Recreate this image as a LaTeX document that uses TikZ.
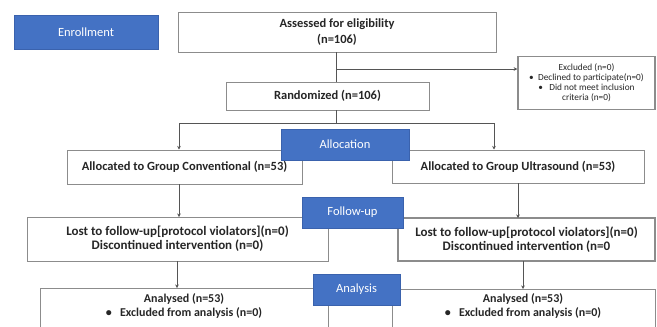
\documentclass[tikz,border=0pt]{standalone}
\usepackage{fontspec}
\setmainfont{Carlito}
\usetikzlibrary{arrows.meta}
\definecolor{bluebox}{HTML}{4472C4}
\definecolor{blueborder}{HTML}{3A62AD}
\definecolor{boxgray}{HTML}{8C8C8C}
\definecolor{linegray}{HTML}{555555}
\definecolor{txt}{HTML}{262626}
\begin{document}
\begin{tikzpicture}[x=1pt,y=-1pt,
 wbox/.style={draw=boxgray, line width=1pt, fill=white, inner sep=0pt, font=\bfseries\fontsize{12.5}{14}\selectfont, text=txt, align=center},
 tbox/.style={inner sep=0pt, font=\bfseries\fontsize{12}{13.5}\selectfont, text=txt, align=center},
 bbox/.style={draw=blueborder, fill=bluebox, line width=0.8pt, inner sep=0pt, font=\fontsize{12.5}{14}\selectfont, text=white},
 arr/.style={draw=linegray, line width=1pt, -{Stealth[length=3.5pt,width=3.5pt]}},
 ln/.style={draw=linegray, line width=1pt}]
\useasboundingbox (0,0) rectangle (657,327);
\fill[white] (0,0) rectangle (657,327);
% white boxes
\node[wbox, minimum width=318, minimum height=40, font=\bfseries\fontsize{12.5}{16}\selectfont] (assess) at (337,32) {Assessed for eligibility\\(n=106)};
\node[wbox, minimum width=137, minimum height=53, line width=1.5pt, font=\fontsize{9.3}{10}\selectfont] (excl) at (586.5,83) {Excluded (n=0)\\• \ Declined to participate(n=0)\\• \ \ Did not meet inclusion\\criteria (n=0)};
\node[wbox, minimum width=203, minimum height=28] (rand) at (327.5,96) {Randomized (n=106)};
\node[wbox, minimum width=235, minimum height=34] (conv) at (184.5,167) {Allocated to Group Conventional (n=53)};
\node[wbox, minimum width=252, minimum height=33] (ultra) at (518,166.5) {Allocated to Group Ultrasound (n=53)};
\node[wbox, minimum width=301, minimum height=44, font=\bfseries\fontsize{13}{14}\selectfont] (lostL) at (177.5,239) {Lost to follow-up[protocol violators](n=0)\\Discontinued intervention (n=0)};
\node[wbox, minimum width=257, minimum height=43, line width=1.5pt, font=\bfseries\fontsize{13}{14}\selectfont] (lostR) at (526.5,239.5) {Lost to follow-up[protocol violators](n=0)\\Discontinued intervention (n=0};
\node[wbox, minimum width=288, minimum height=50] (anL) at (184,313) {};
\node[tbox] (anLt) at (184,306) {Analysed (n=53)\\• \ \ Excluded from analysis (n=0)};
\node[wbox, minimum width=263, minimum height=50] (anR) at (523.5,314) {};
\node[tbox] (anRt) at (523,306) {Analysed (n=53)\\• \ \ Excluded from analysis (n=0)};
% connectors
\coordinate (j1) at (336,69);
\coordinate (j2) at (336,123);
\coordinate (jl) at (179,123);
\coordinate (jr) at (494,123);
\draw[ln] (336,52) -- (336,82);
\draw[arr] (j1) -- (j1 -| excl.west);
\draw[ln] (336,110) -- (j2);
\draw[ln] (jl) -- (jr);
\draw[arr] (jl) -- (jl |- conv.north);
\draw[arr] (jr) -- (jr |- ultra.north);
\draw[arr] (179,184) -- (179,217);
\draw[arr] (518,183) -- (518,218);
\draw[arr] (177,261) -- (177,288);
\draw[arr] (523,261) -- (523,289);
% blue stage boxes
\node[bbox, minimum width=144, minimum height=34] (enroll) at (86,32) {Enrollment};
\node[bbox, minimum width=128, minimum height=31] (alloc) at (345,144.5) {Allocation};
\node[bbox, minimum width=101, minimum height=31] (follow) at (352.5,212.5) {Follow-up};
\node[bbox, minimum width=87, minimum height=31] (analysis) at (356.5,289.5) {Analysis};
\end{tikzpicture}
\end{document}
